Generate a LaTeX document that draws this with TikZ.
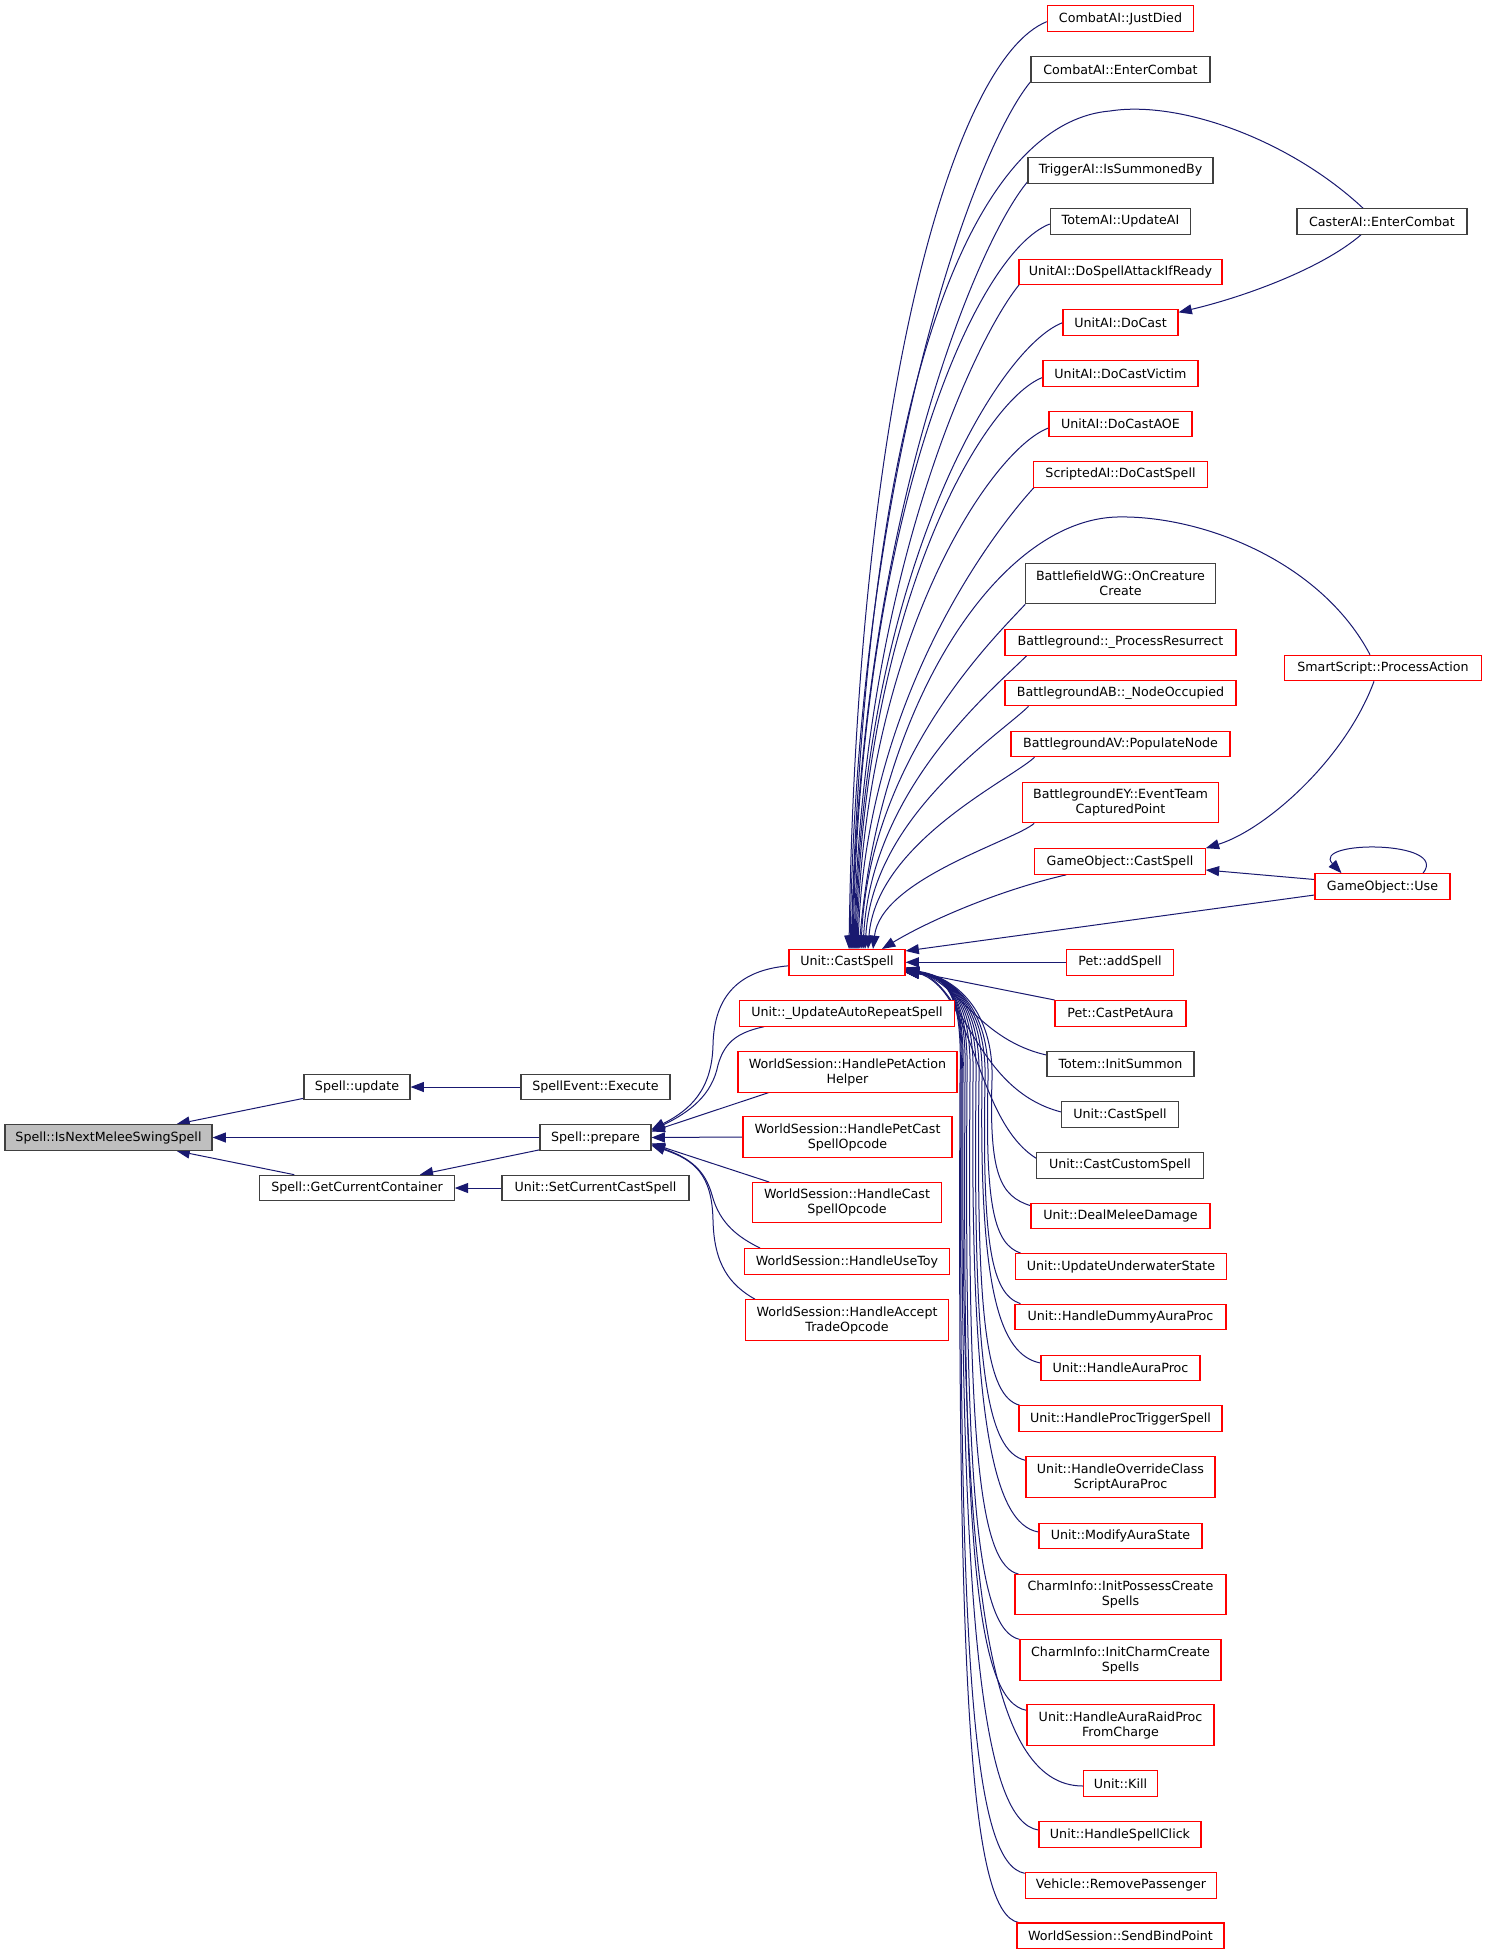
\documentclass[tikz,border=0pt]{standalone}
\usepackage{fontspec}
\setmainfont{DejaVu Sans}
\usetikzlibrary{arrows.meta,calc}
\definecolor{edgeblue}{RGB}{25,25,112}
\definecolor{boxred}{RGB}{255,0,0}
\definecolor{boxgray}{RGB}{64,64,64}
\definecolor{rootfill}{RGB}{191,191,191}
\pgfdeclarelayer{bg}
\pgfsetlayers{bg,main}
\begin{document}
\begin{tikzpicture}[x=0.75pt,y=-0.75pt,
 font=\fontsize{9.5pt}{11.25pt}\selectfont,
 box/.style={draw, line width=0.8pt, inner sep=0pt, align=center, minimum height=19.2pt, fill=white},
 rbox/.style={box, draw=boxred},
 kbox/.style={box, draw=boxgray},
 bw/.style={minimum width=#1*0.75pt},
 tall/.style={minimum height=30.2pt},
 conn/.style={draw=edgeblue, line width=0.75pt, {Triangle[length=10pt,width=7.5pt]}-}]
\useasboundingbox (0,0) rectangle (1487,1955);
% left part
\node[kbox, fill=rootfill, bw=207] (root) at (108.5,1137.5) {Spell::IsNextMeleeSwingSpell};
\node[kbox,bw=106] (update) at (357,1087) {Spell::update};
\node[kbox,bw=149] (execute) at (595.5,1087) {SpellEvent::Execute};
\node[kbox,bw=111] (prepare) at (595.5,1137.5) {Spell::prepare};
\node[kbox,bw=194.5] (container) at (357,1188) {Spell::GetCurrentContainer};
\node[kbox,bw=187] (setcur) at (595.5,1188) {Unit::SetCurrentCastSpell};
% middle
\node[rbox,bw=116] (castspell) at (847,962.3) {Unit::CastSpell};
\node[rbox,bw=214.5] (autorep) at (847,1013.3) {Unit::\_UpdateAutoRepeatSpell};
\node[rbox,bw=219,tall] (petaction) at (847.5,1072) {WorldSession::HandlePetAction\\Helper};
\node[rbox,bw=209,tall] (petcast) at (847.5,1137) {WorldSession::HandlePetCast\\SpellOpcode};
\node[rbox,bw=188.5,tall] (castop) at (847,1202.7) {WorldSession::HandleCast\\SpellOpcode};
\node[rbox,bw=204.5] (usetoy) at (847,1261.5) {WorldSession::HandleUseToy};
\node[rbox,bw=202.5,tall] (accept) at (847,1320) {WorldSession::HandleAccept\\TradeOpcode};
% right column
\node[rbox,bw=146.5] (justdied) at (1120.5,18.7) {CombatAI::JustDied};
\node[kbox,bw=179] (combatenter) at (1120.5,69.5) {CombatAI::EnterCombat};
\node[kbox,bw=185] (trigger) at (1120.5,170.5) {TriggerAI::IsSummonedBy};
\node[kbox,bw=140.5] (totemai) at (1120.5,221.5) {TotemAI::UpdateAI};
\node[rbox,bw=203] (spellattack) at (1120.5,272) {UnitAI::DoSpellAttackIfReady};
\node[rbox,bw=115] (docast) at (1120.5,322.7) {UnitAI::DoCast};
\node[rbox,bw=155] (docastvictim) at (1120.5,373.5) {UnitAI::DoCastVictim};
\node[rbox,bw=143] (docastaoe) at (1120.5,424) {UnitAI::DoCastAOE};
\node[rbox,bw=174.5] (scripted) at (1120.5,474.5) {ScriptedAI::DoCastSpell};
\node[kbox,bw=189.6,tall] (bfwg) at (1120.5,583.7) {BattlefieldWG::OnCreature\\Create};
\node[rbox,bw=231] (procres) at (1120.5,642.5) {Battleground::\_ProcessResurrect};
\node[rbox,bw=231] (nodeocc) at (1120.5,693) {BattlegroundAB::\_NodeOccupied};
\node[rbox,bw=219] (popnode) at (1120.5,744) {BattlegroundAV::PopulateNode};
\node[rbox,bw=195.6,tall] (eyevent) at (1120.5,802.7) {BattlegroundEY::EventTeam\\CapturedPoint};
\node[rbox,bw=170.5] (gocast) at (1120,861.5) {GameObject::CastSpell};
\node[rbox,bw=106.4] (addspell) at (1120,962.3) {Pet::addSpell};
\node[rbox,bw=131] (petaura) at (1120.5,1013.3) {Pet::CastPetAura};
\node[kbox,bw=147] (initsummon) at (1120.5,1064) {Totem::InitSummon};
\node[kbox,bw=116.4] (castspell2) at (1120,1114.5) {Unit::CastSpell};
\node[kbox,bw=166.5] (customspell) at (1120,1165.3) {Unit::CastCustomSpell};
\node[rbox,bw=179] (melee) at (1120.5,1216) {Unit::DealMeleeDamage};
\node[rbox,bw=211.6] (underwater) at (1121,1266.5) {Unit::UpdateUnderwaterState};
\node[rbox,bw=211] (dummyaura) at (1120.5,1317) {Unit::HandleDummyAuraProc};
\node[rbox,bw=159] (auraproc) at (1120.5,1368) {Unit::HandleAuraProc};
\node[rbox,bw=203] (proctrigger) at (1120.5,1418.5) {Unit::HandleProcTriggerSpell};
\node[rbox,bw=189,tall] (overrideclass) at (1120.5,1477) {Unit::HandleOverrideClass\\ScriptAuraProc};
\node[rbox,bw=163] (modifyaura) at (1120.5,1536) {Unit::ModifyAuraState};
\node[rbox,bw=211,tall] (possess) at (1120.5,1594.7) {CharmInfo::InitPossessCreate\\Spells};
\node[rbox,bw=201,tall] (charm) at (1120.5,1660) {CharmInfo::InitCharmCreate\\Spells};
\node[rbox,bw=187,tall] (raidproc) at (1120.5,1725) {Unit::HandleAuraRaidProc\\FromCharge};
\node[rbox,bw=73.8] (kill) at (1120.5,1783.5) {Unit::Kill};
\node[rbox,bw=162] (spellclick) at (1120,1834.5) {Unit::HandleSpellClick};
\node[rbox,bw=191.6] (removepass) at (1121,1885.3) {Vehicle::RemovePassenger};
\node[rbox,bw=207] (bindpoint) at (1120.5,1935.8) {WorldSession::SendBindPoint};
% far right
\node[kbox,bw=170] (casterai) at (1382,221.5) {CasterAI::EnterCombat};
\node[rbox,bw=197.6] (smartscript) at (1383,668) {SmartScript::ProcessAction};
\node[rbox,bw=135] (gouse) at (1382.5,886.5) {GameObject::Use};

\begin{pgfonlayer}{bg}
\fill[white] (0,0) rectangle (1487,1955);
% left edges
\draw[conn] ($(root.north)+(68,0)$) -- ($(update.south west)+(0,-2)$);
\draw[conn] (root.east) -- (prepare.west);
\draw[conn] ($(root.south)+(68,0)$) -- ($(container.north west)+(35,0)$);
\draw[conn] (update.east) -- (execute.west);
\draw[conn] ($(container.north east)+(-35,0)$) -- ($(prepare.south west)+(0,-1)$);
\draw[conn] (container.east) -- (setcur.west);
% into prepare
\draw[conn] ($(prepare.east)+(0,-8)$) .. controls (690,1110) and (712,1090) .. (713,1045) .. controls (714,995) and (740,970) .. ($(castspell.west)+(0,3.5)$);
\draw[conn] ($(prepare.east)+(0,-7)$) .. controls (690,1112) and (712,1095) .. (718,1065) .. controls (725,1040) and (740,1032) .. ($(autorep.south west)+(25,0)$);
\draw[conn] ($(prepare.east)+(0,-6)$) -- ($(petaction.south west)+(31,0)$);
\draw[conn] (prepare.east) -- (petcast.west);
\draw[conn] ($(prepare.east)+(0,6)$) -- ($(castop.north west)+(17,0)$);
\draw[conn] ($(prepare.east)+(0,7)$) .. controls (690,1158) and (705,1170) .. (712,1195) .. controls (720,1225) and (740,1238) .. ($(usetoy.north west)+(16,0)$);
\draw[conn] ($(prepare.east)+(0,8)$) .. controls (695,1160) and (712,1175) .. (713,1220) .. controls (714,1265) and (730,1285) .. ($(accept.north west)+(10,0)$);
% upper fan into Unit::CastSpell
\draw[conn] ($(castspell.north)+(2,0)$) .. controls (857,393) and (954,59) .. ($(justdied.west)+(0,3)$);
\draw[conn] ($(castspell.north)+(3,0)$) .. controls (858,472) and (973,152) .. ($(combatenter.south west)+(0,-1)$);
\draw[conn] ($(castspell.north)+(4,0)$) .. controls (870,300) and (1000,120) .. (1110,111) .. controls (1180,100) and (1290,140) .. ($(casterai.north)+(-19,0)$);
\draw[conn] ($(castspell.north)+(5,0)$) .. controls (860,527) and (975,245) .. ($(trigger.south west)+(0,-2)$);
\draw[conn] ($(castspell.north)+(6,0)$) .. controls (861,514) and (975,253) .. ($(totemai.west)+(0,2.5)$);
\draw[conn] ($(castspell.north)+(7,0)$) .. controls (862,583) and (973,341) .. ($(spellattack.south west)+(1,-1)$);
\draw[conn] ($(castspell.north)+(8,0)$) .. controls (863,573) and (997,348) .. (docast.west);
\draw[conn] ($(castspell.north)+(9,0)$) .. controls (864,606) and (982,401) .. ($(docastvictim.west)+(0,4)$);
\draw[conn] ($(castspell.north)+(10,0)$) .. controls (865,636) and (992,449) .. ($(docastaoe.west)+(0,4)$);
\draw[conn] ($(castspell.north)+(11,0)$) .. controls (866,695) and (996,529) .. ($(scripted.south west)+(1,0)$);
\draw[conn] ($(castspell.north)+(12,0)$) .. controls (880,700) and (1000,520) .. (1117,517) .. controls (1200,515) and (1320,560) .. ($(smartscript.north)+(-13,0)$);
\draw[conn] ($(castspell.north)+(14,0)$) .. controls (869,759) and (994,638) .. (bfwg.south west);
\draw[conn] ($(castspell.north)+(16,0)$) .. controls (871,787) and (997,686) .. ($(procres.south west)+(22,0)$);
\draw[conn] ($(castspell.north)+(18,0)$) .. controls (873,815) and (1002,733) .. ($(nodeocc.south west)+(24,0)$);
\draw[conn] ($(castspell.north)+(21,0)$) .. controls (876,843) and (1010,780) .. ($(popnode.south west)+(24,0)$);
\draw[conn] ($(castspell.north)+(26,0)$) .. controls (881,879) and (1014,841) .. ($(eyevent.south west)+(12,0)$);
\draw[conn] ($(castspell.north)+(35,0)$) .. controls (930,920) and (1000,890) .. ($(gocast.south west)+(32,0)$);
% other right edges
\draw[conn] ($(docast.north east)+(0,3)$) .. controls (1240,298) and (1320,270) .. ($(casterai.south)+(-21,0)$);
\draw[conn] (gocast.north east) .. controls (1265,830) and (1345,760) .. ($(smartscript.south)+(-9,0)$);
\draw[conn] ($(gocast.east)+(0,8.5)$) -- ($(gouse.west)+(0,-7)$);
\draw[conn] ($(castspell.north east)+(0,2)$) -- ($(gouse.west)+(0,8.5)$);
\draw[conn] ($(gouse.north)+(-41,0)$) .. controls (1310,840) and (1450,840) .. ($(gouse.north)+(40.5,0)$);
\draw[conn] (castspell.east) -- (addspell.west);
\draw[conn] ($(castspell.east)+(0,8)$) -- (petaura.north west);
% lower fan
\draw[conn] ($(castspell.east)+(0,5)$) .. controls (960,985) and (980,1040) .. ($(initsummon.west)+(0,-9)$);
\draw[conn] ($(castspell.east)+(0,6)$) .. controls (965,985) and (975,1090) .. ($(castspell2.west)+(0,-2.5)$);
\draw[conn] ($(castspell.east)+(0,7)$) .. controls (975,990) and (975,1120) .. ($(customspell.west)+(0,-7)$);
\draw[conn] ($(castspell.east)+(0,7)$) .. controls (955,977) and (994,1010) .. (992,1080) .. controls (989,1174) and (1000,1196) .. ($(melee.north west)+(0,3)$);
\draw[conn] ($(castspell.east)+(0,8)$) .. controls (955,977) and (990,1010) .. (988,1080) .. controls (985,1210) and (995,1244) .. ($(underwater.north west)+(6,0)$);
\draw[conn] ($(castspell.east)+(0,8)$) .. controls (955,977) and (987,1010) .. (985,1080) .. controls (982,1248) and (992,1294) .. ($(dummyaura.north west)+(6,0)$);
\draw[conn] ($(castspell.east)+(0,9)$) .. controls (955,977) and (984,1010) .. (982,1080) .. controls (979,1292) and (1000,1355) .. ($(auraproc.west)+(0,-5)$);
\draw[conn] ($(castspell.east)+(0,9)$) .. controls (955,977) and (981,1010) .. (979,1080) .. controls (976,1324) and (987,1396) .. ($(proctrigger.north west)+(1,0)$);
\draw[conn] ($(castspell.east)+(0,9)$) .. controls (955,977) and (978,1010) .. (976,1080) .. controls (973,1366) and (986,1451) .. ($(overrideclass.north west)+(0,4)$);
\draw[conn] ($(castspell.east)+(0,10)$) .. controls (955,977) and (975,1010) .. (973,1080) .. controls (970,1419) and (993,1524) .. ($(modifyaura.west)+(0,-4)$);
\draw[conn] ($(castspell.east)+(0,10)$) .. controls (955,977) and (972,1010) .. (970,1080) .. controls (967,1451) and (980,1565) .. ($(possess.north west)+(4,0)$);
\draw[conn] ($(castspell.east)+(0,10)$) .. controls (955,977) and (969,1010) .. (967,1080) .. controls (964,1500) and (978,1630) .. (charm.north west);
\draw[conn] ($(castspell.east)+(0,10)$) .. controls (955,977) and (967,1010) .. (965,1080) .. controls (962,1553) and (977,1701) .. ($(raidproc.north west)+(0,6)$);
\draw[conn] ($(castspell.east)+(0,10)$) .. controls (955,977) and (965,1010) .. (963,1080) .. controls (960,1574) and (985,1786) .. ($(kill.west)+(0,2.5)$);
\draw[conn] ($(castspell.east)+(0,10)$) .. controls (955,977) and (964,1010) .. (962,1080) .. controls (959,1642) and (985,1822) .. ($(spellclick.west)+(0,-4.5)$);
\draw[conn] ($(castspell.east)+(0,10)$) .. controls (955,977) and (963,1010) .. (961,1080) .. controls (958,1675) and (974,1864) .. ($(removepass.north west)+(0,1.3)$);
\draw[conn] ($(castspell.east)+(0,10)$) .. controls (955,977) and (962,1010) .. (960,1080) .. controls (957,1712) and (972,1913) .. ($(bindpoint.north west)+(2,0)$);
\end{pgfonlayer}
\end{tikzpicture}
\end{document}
